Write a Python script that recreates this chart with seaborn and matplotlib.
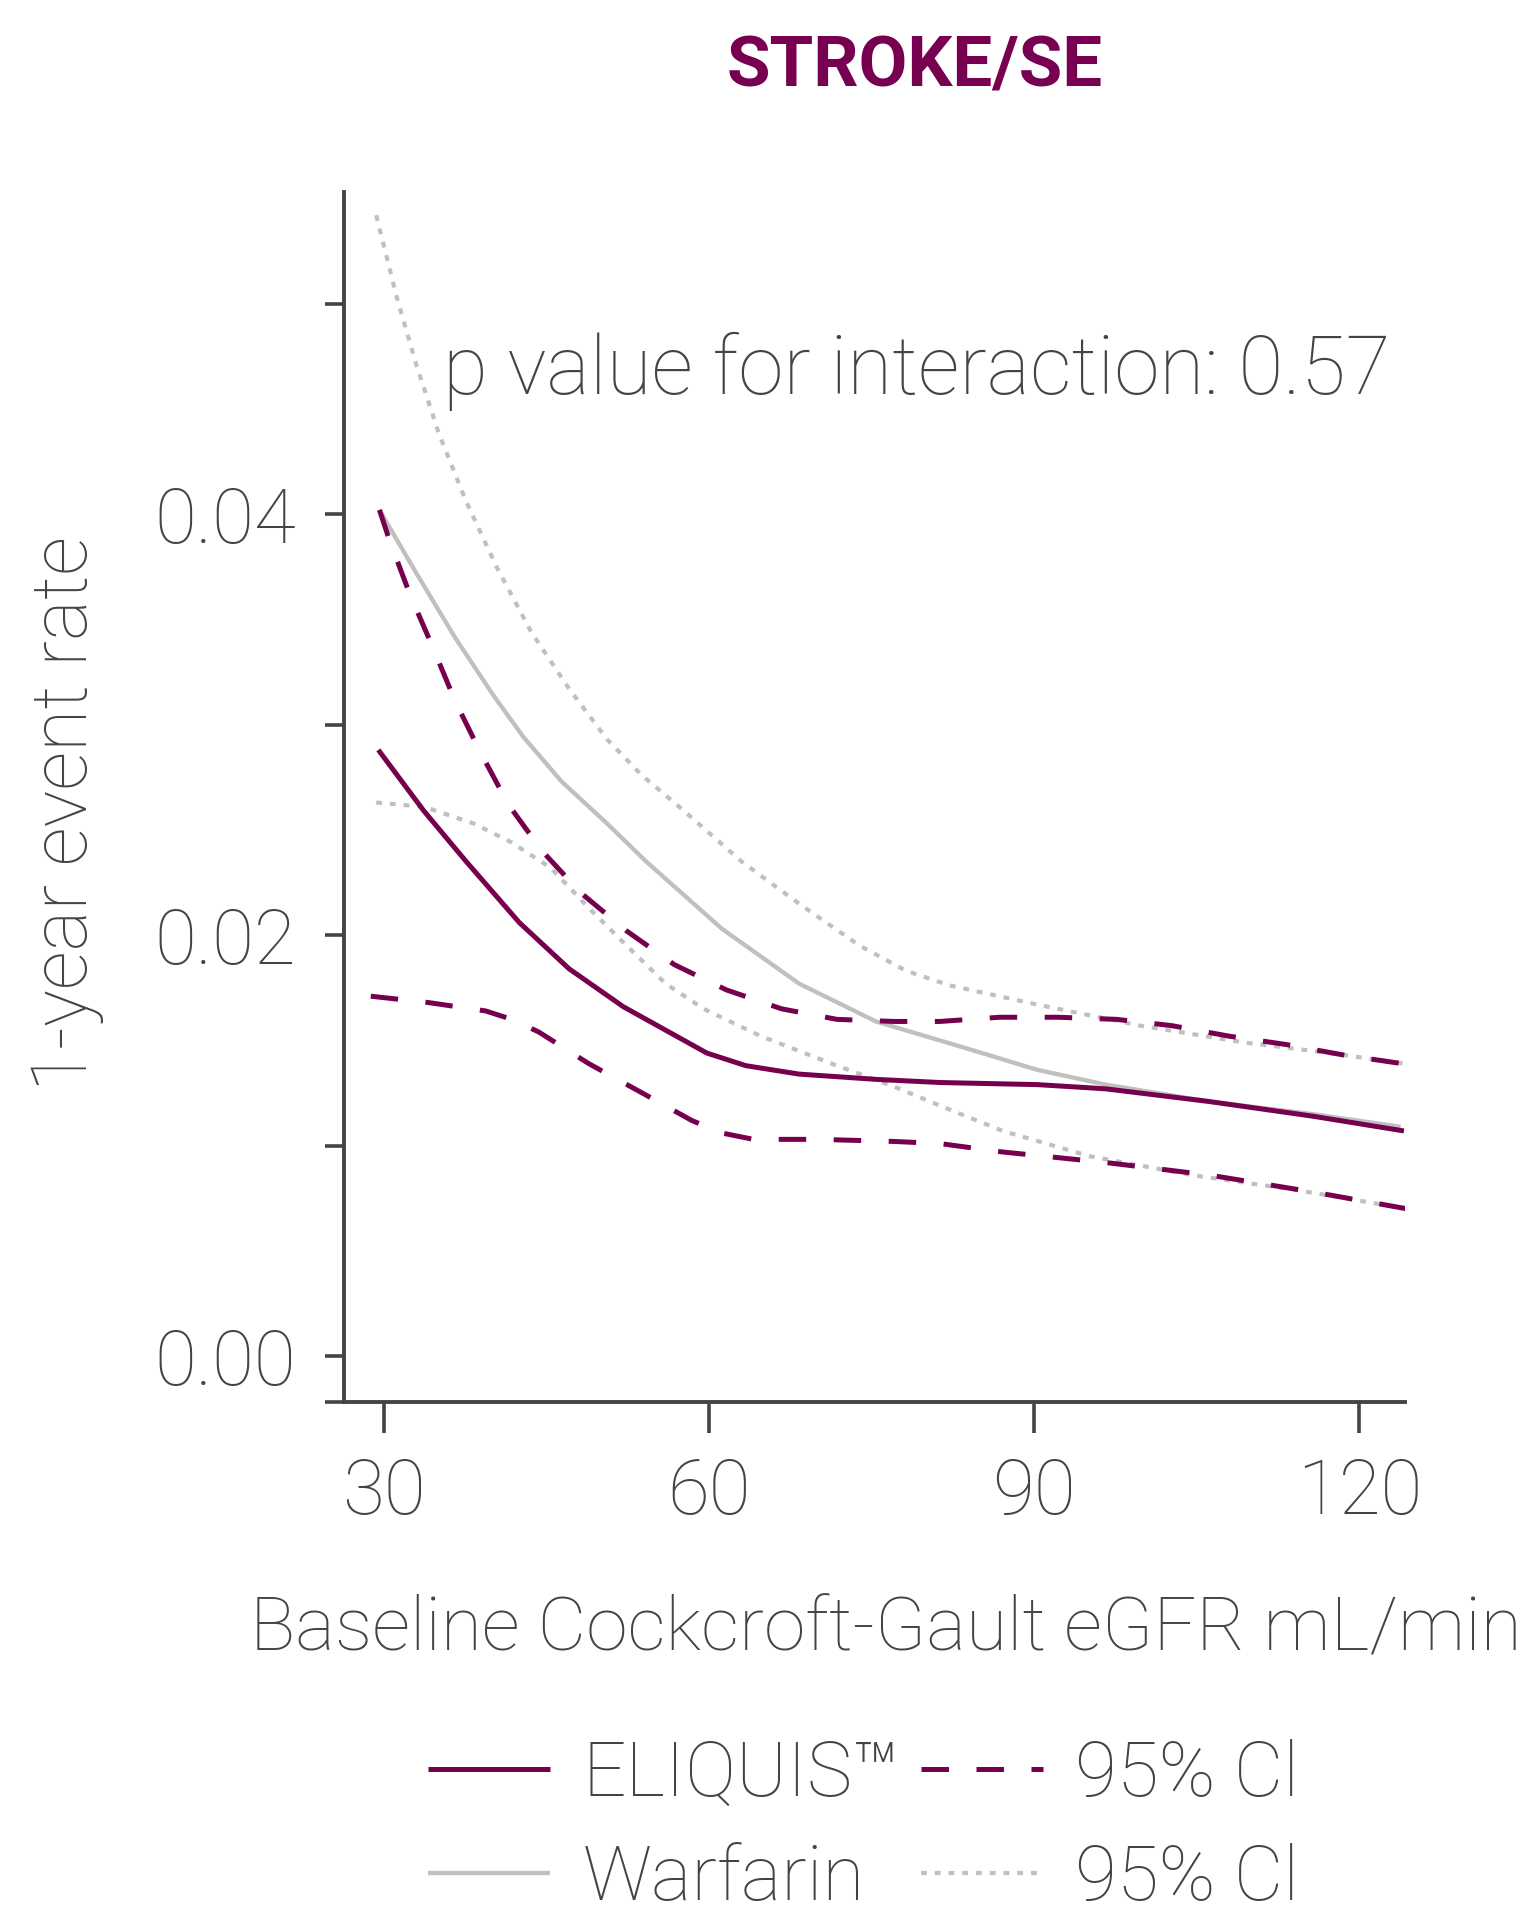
import numpy as np
import pandas as pd
import matplotlib
matplotlib.use("Agg")
import matplotlib.pyplot as plt
import seaborn as sns
from matplotlib import font_manager

# ---------------- data ----------------
eli_x = [29.5, 33.7, 37.6, 42.5, 47.1, 52.1, 57.0, 59.8, 63.4, 68.3, 75.4, 81.3, 90.3, 96.6, 106.1, 115.7, 124.1]
eli_y = [0.0288, 0.0259, 0.0235, 0.0206, 0.0184, 0.0166, 0.0152, 0.0144, 0.0138, 0.0134, 0.01315, 0.0130, 0.0129, 0.0127, 0.0121, 0.0114, 0.0107]

war_x = [29.6, 33.0, 36.5, 40.1, 42.9, 46.4, 50.6, 54.2, 61.2, 68.3, 75.4, 83.9, 90.3, 96.6, 106.1, 115.7, 123.8]
war_y = [0.0402, 0.0372, 0.0342, 0.0314, 0.0294, 0.0273, 0.0253, 0.0235, 0.0203, 0.0177, 0.0159, 0.0146, 0.0136, 0.0129, 0.0121, 0.0115, 0.0109]

eli_up_x = [29.6, 30.5, 32.4, 34.5, 36.6, 38.9, 41.5, 44.6, 48.2, 52.4, 56.8, 61.6, 66.7, 71.8, 77.1, 81.3, 86.8, 92.2, 97.6, 102.7, 108.0, 113.3, 118.6, 123.9]
eli_up_y = [0.0402, 0.0388, 0.0362, 0.0337, 0.0311, 0.0287, 0.0262, 0.0240, 0.0220, 0.0202, 0.0186, 0.0174, 0.0165, 0.0160, 0.0159, 0.0159, 0.0161, 0.0161, 0.0160, 0.0157, 0.0152, 0.0148, 0.0143, 0.0139]

eli_lo_x = [28.8, 34.1, 39.4, 41.8, 44.3, 48.9, 53.5, 58.4, 61.2, 64.1, 70.1, 77.1, 81.3, 87.1, 96.6, 106.2, 115.7, 124.4]
eli_lo_y = [0.0171, 0.0168, 0.0164, 0.0160, 0.0154, 0.0139, 0.0126, 0.0112, 0.0106, 0.0103, 0.0103, 0.0102, 0.0101, 0.0097, 0.0092, 0.0086, 0.0078, 0.0070]

war_up_x = [29.3, 31.2, 33.0, 35.1, 37.6, 40.4, 43.6, 47.1, 50.6, 53.8, 57.7, 63.0, 68.3, 73.9, 78.2, 82.3, 90.3, 99.8, 109.4, 117.3, 125.4]
war_up_y = [0.0542, 0.0503, 0.0471, 0.0438, 0.0406, 0.0375, 0.0344, 0.0317, 0.0293, 0.0276, 0.0259, 0.0235, 0.0215, 0.0195, 0.0183, 0.0176, 0.0167, 0.0157, 0.0149, 0.0144, 0.0138]

war_lo_x = [29.3, 33.7, 38.3, 41.8, 45.4, 48.9, 52.4, 56.0, 59.5, 64.8, 71.8, 77.1, 81.3, 87.1, 95.1, 104.6, 114.1, 124.4]
war_lo_y = [0.0263, 0.0261, 0.0253, 0.0244, 0.0232, 0.0213, 0.0195, 0.0177, 0.0165, 0.0152, 0.0138, 0.0128, 0.0119, 0.0107, 0.0095, 0.0086, 0.0079, 0.0070]

x_ticks = [30, 60, 90, 120]
y_ticks = [-0.00216, 0.00, 0.01, 0.02, 0.03, 0.04, 0.05]
y_ticklabels = ["", "0.00", "", "0.02", "", "0.04", ""]
legend_labels = ["ELIQUIS\u2122", "Warfarin", "95% Cl", "95% Cl"]
title_text = "STROKE/SE"
ptext = "p value for interaction: 0.57"
xlabel = "Baseline Cockcroft-Gault eGFR mL/min"
ylabel = "1-year event rate"

# ---------------- style ----------------
sns.set_theme(style="ticks")
avail = {f.name for f in font_manager.fontManager.ttflist}
if "Liberation Sans Narrow" in avail:
    fam = ["Liberation Sans Narrow", "DejaVu Sans"]
    k = 1.16
else:
    fam = ["Roboto", "DejaVu Sans"]
    k = 1.0
plt.rcParams["font.family"] = fam
LIGHT = "light"

PURPLE = "#76004e"
GRAY = "#c0c0c0"
TXT = "#444444"

fig = plt.figure(figsize=(15.3, 19.18), dpi=100)
ax = fig.add_axes([0.2246, 0.2692, 0.6937, 0.6307])

def draw(xs, ys, color, lw, ls, label=None, z=2):
    df = pd.DataFrame({"x": xs, "y": ys})
    n0 = len(ax.lines)
    sns.lineplot(data=df, x="x", y="y", ax=ax, color=color, linewidth=lw,
                 label=label, zorder=z, estimator=None, sort=True)
    for ln in ax.lines[n0:]:
        ln.set_linewidth(lw)
        ln.set_linestyle(ls)
        ln.set_solid_capstyle("butt")
        ln.set_dash_capstyle("butt")
        ln.set_solid_joinstyle("round")

dot = (0, (1.4, 1.9))
dash = (0, (5.5, 5.5))
draw(war_up_x, war_up_y, GRAY, 3.0, dot, None, 2)
draw(war_lo_x, war_lo_y, GRAY, 3.0, dot, "w_ci", 2)
draw(war_x, war_y, GRAY, 3.1, "-", "war", 3)
draw(eli_up_x, eli_up_y, PURPLE, 3.6, dash, None, 4)
draw(eli_lo_x, eli_lo_y, PURPLE, 3.6, dash, "e_ci", 4)
draw(eli_x, eli_y, PURPLE, 3.6, "-", "eli", 5)

if ax.get_legend() is not None:
    ax.get_legend().remove()

ax.set_xlim(26.3, 124.2)
ax.set_ylim(-0.00216, 0.0553)
ax.set_xticks(x_ticks)
ax.set_xticklabels([str(v) for v in x_ticks])
ax.set_yticks(y_ticks)
ax.set_yticklabels(y_ticklabels)

for s in ["top", "right"]:
    ax.spines[s].set_visible(False)
for s in ["left", "bottom"]:
    ax.spines[s].set_color(TXT)
    ax.spines[s].set_linewidth(2.8)

ax.tick_params(axis="y", length=14, width=2.6, color=TXT, labelcolor=TXT,
               labelsize=55 * k, pad=20)
ax.tick_params(axis="x", length=22, width=2.6, color=TXT, labelcolor=TXT,
               labelsize=55 * k, pad=18)
for t in ax.get_xticklabels() + ax.get_yticklabels():
    t.set_fontweight(LIGHT)

ax.set_xlabel(xlabel, fontsize=54 * k, color=TXT, fontweight=LIGHT)
ax.set_ylabel(ylabel, fontsize=55.5 * k, color=TXT, fontweight=LIGHT)
ax.xaxis.label.set_va("center")
ax.yaxis.label.set_va("center")
ax.xaxis.set_label_coords(0.511, -0.189)
ax.yaxis.set_label_coords(-0.261, 0.4866)

ax.text(0.0933, 0.833, ptext, transform=ax.transAxes, ha="left", va="baseline",
        fontsize=59 * k, color=TXT, fontweight=LIGHT)

fig.text(0.598, 0.955, title_text, ha="center", va="baseline",
         fontsize=51 * k, fontweight="bold", color="#780050")

h, l = ax.get_legend_handles_labels()
hd = dict(zip(l, h))
handles = [hd["eli"], hd["war"], hd["e_ci"], hd["w_ci"]]
leg = fig.legend(handles, legend_labels, loc="center left",
                 bbox_to_anchor=(0.2797, 0.0474), borderpad=0, borderaxespad=0,
                 ncol=2, frameon=False, fontsize=55 * k, handlelength=1.6,
                 handletextpad=0.42, columnspacing=0.29, labelspacing=0.42,
                 labelcolor=TXT)
for t in leg.get_texts():
    t.set_fontweight(LIGHT)

fig.savefig("out.png", dpi=100, facecolor="white")
